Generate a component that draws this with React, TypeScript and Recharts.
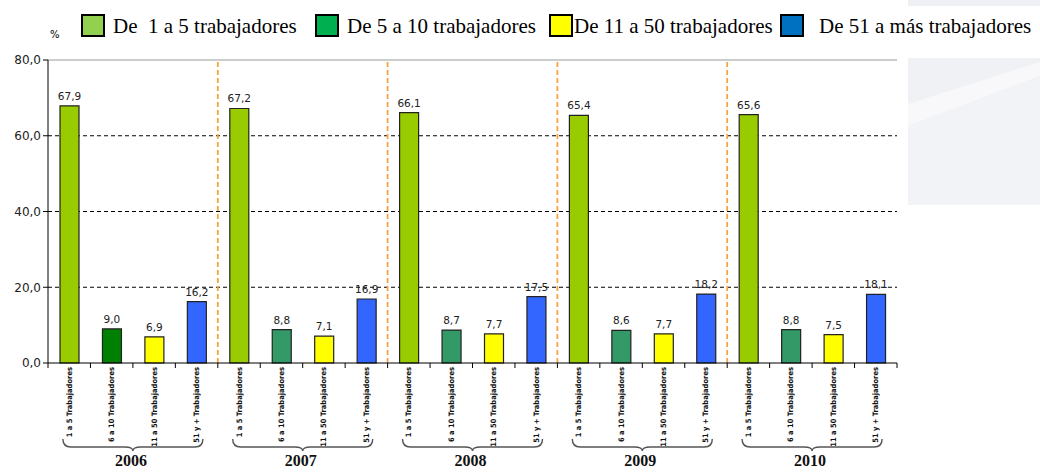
import {
  Bar,
  CartesianGrid,
  Cell,
  ComposedChart,
  LabelList,
  ReferenceLine,
  XAxis,
  YAxis,
} from "recharts";

const YEARS = ["2006", "2007", "2008", "2009", "2010"];
const SIZE_TICKS = ["1 a 5 Trabajadores", "6 a 10 Trabajadores", "11 a 50 Trabajadores", "51 y + Trabajadores"];
const LEGEND_LABELS = ["De  1 a 5 trabajadores", "De 5 a 10 trabajadores", "De 11 a 50 trabajadores", "De 51 a más trabajadores"];

const SMALL = [67.9, 67.2, 66.1, 65.4, 65.6];
const MICRO = [9.0, 8.8, 8.7, 8.6, 8.8];
const MEDIUM = [6.9, 7.1, 7.7, 7.7, 7.5];
const LARGE = [16.2, 16.9, 17.5, 18.2, 18.1];

const Y_TICKS = [0, 20, 40, 60, 80];
const GRID_VALUES = [20, 40, 60];

// bar fills, by size class; the 2006 second bar is a darker green in the source
const BAR_COLORS = ["#99cc00", "#339966", "#ffff00", "#3366ff"];
const BAR_COLOR_2006_MICRO = "#008000";
const LEGEND_COLORS = ["#92d050", "#00b050", "#ffff00", "#0070c0"];

const W = 1040;
const H = 472;
const MARGIN = { top: 60, right: 143, bottom: 0, left: 8 };

const series = [SMALL, MICRO, MEDIUM, LARGE];
const data = YEARS.flatMap((year, yi) =>
  SIZE_TICKS.map((label, si) => ({
    key: `${year}-${si}`,
    year,
    label,
    size: si,
    value: series[si][yi],
  }))
);

const fmt = (v: number) => v.toFixed(1).replace(".", ",");

function SizeTick(props: any) {
  const { x, y, payload, index, width, visibleTicksCount } = props;
  const plotW = width ?? W - MARGIN.left - MARGIN.right - 40;
  const half = plotW / (visibleTicksCount || data.length) / 2;
  const label = data[index]?.label ?? payload.value;
  return (
    <g>
      <line x1={x - half} x2={x - half} y1={y - 8} y2={y - 3} stroke="#000" />
      {index === data.length - 1 && (
        <line x1={x + half} x2={x + half} y1={y - 8} y2={y - 3} stroke="#000" />
      )}
      <text
        x={0}
        y={0}
        transform={`translate(${x + 2.5},${y - 4}) rotate(-90)`}
        textAnchor="end"
        fontFamily="'Liberation Sans Narrow', 'DejaVu Sans Condensed', Arial, sans-serif"
        fontSize={7.5}
        fontWeight="bold"
        fill="#111"
      >
        {label}
      </text>
    </g>
  );
}

function YearTick(props: any) {
  const { x, y, payload } = props;
  const top = y - 12;
  const hw = 70;
  const d =
    `M ${x - hw} ${top} Q ${x - hw} ${top + 8} ${x - hw + 8} ${top + 8} ` +
    `L ${x - 8} ${top + 8} Q ${x} ${top + 8} ${x} ${top + 12} ` +
    `Q ${x} ${top + 8} ${x + 8} ${top + 8} ` +
    `L ${x + hw - 8} ${top + 8} Q ${x + hw} ${top + 8} ${x + hw} ${top}`;
  return (
    <g>
      <path d={d} fill="none" stroke="#555" strokeWidth={1.4} />
      <text
        x={x - 2}
        y={top + 27}
        textAnchor="middle"
        fontFamily="'Liberation Serif', 'Times New Roman', serif"
        fontWeight="bold"
        fontSize={16}
        fill="#111"
      >
        {payload.value}
      </text>
    </g>
  );
}

function Legend() {
  const lefts = [81, 315, 549, 780];
  const gaps = [8, 8, 1, 15];
  return (
    <div
      style={{
        position: "absolute",
        left: 0,
        top: 0,
        width: W,
        fontFamily: "'Liberation Serif', 'Times New Roman', serif",
        fontSize: 21,
        color: "#000",
      }}
    >
      <span style={{ position: "absolute", left: 50, top: 29, fontFamily: "'DejaVu Sans', sans-serif", fontSize: 10 }}>%</span>
      {LEGEND_LABELS.map((label, i) => (
        <div
          key={label}
          style={{ position: "absolute", left: lefts[i], top: 13, display: "flex", alignItems: "center", whiteSpace: "pre" }}
        >
          <span
            style={{
              display: "inline-block",
              width: 20,
              height: 19,
              border: "2px solid #000",
              background: LEGEND_COLORS[i],
              marginRight: gaps[i],
            }}
          />
          <span style={{ lineHeight: "23px", marginTop: 2 }}>{label}</span>
        </div>
      ))}
    </div>
  );
}

function Watermark() {
  return (
    <svg width={132} height={210} style={{ position: "absolute", left: 908, top: 0 }}>
      <rect x={0} y={0} width={132} height={6} fill="#eff0f3" />
      <rect x={0} y={58} width={132} height={147} fill="#f0f1f4" />
      <polygon points="0,104 132,62 132,76 0,126" fill="#f8f8fa" />
      <polygon points="0,126 132,76 132,205 0,205" fill="#f2f3f6" />
    </svg>
  );
}

export default function App() {
  return (
    <div style={{ position: "absolute", left: 0, top: 0, width: W, height: H, background: "#fff" }}>
      <Watermark />
      <Legend />
      <ComposedChart width={W} height={H} data={data} margin={MARGIN} style={{ position: "absolute", left: 0, top: 0 }}>
        <CartesianGrid
          vertical={false}
          stroke="#000"
          strokeDasharray="4 3"
          horizontalValues={GRID_VALUES}
        />
        <XAxis
          dataKey="key"
          interval={0}
          height={80}
          axisLine={{ stroke: "#000" }}
          tickLine={false}
          tick={<SizeTick />}
        />
        <XAxis
          xAxisId="year"
          dataKey="year"
          allowDuplicatedCategory={false}
          height={29}
          axisLine={false}
          tickLine={false}
          tick={<YearTick />}
        />
        <YAxis
          domain={[0, 80]}
          ticks={Y_TICKS}
          width={40}
          tickFormatter={fmt}
          axisLine={{ stroke: "#000" }}
          tickLine={{ stroke: "#000" }}
          tickSize={5}
          tick={{ fontFamily: "'DejaVu Sans', sans-serif", fontSize: 12, fill: "#222" }}
        />
        <YAxis yAxisId="r" orientation="right" width={0} tick={false} tickLine={false} axisLine={{ stroke: "#999" }} />
        <ReferenceLine y={80} stroke="#999" />
        {YEARS.slice(1).map((year) => (
          <ReferenceLine
            key={year}
            x={`${year}-0`}
            position="start"
            stroke="#f7a440"
            strokeWidth={1.8}
            strokeDasharray="5 3"
          />
        ))}
        <Bar dataKey="value" barSize={19} stroke="#222" strokeWidth={1.2} isAnimationActive={false}>
          {data.map((d) => (
            <Cell
              key={d.key}
              fill={d.year === "2006" && d.size === 1 ? BAR_COLOR_2006_MICRO : BAR_COLORS[d.size]}
            />
          ))}
          <LabelList
            dataKey="value"
            position="top"
            offset={6}
            formatter={(v: any) => fmt(Number(v))}
            style={{ fontFamily: "'DejaVu Sans', sans-serif", fontSize: 10.5, fill: "#222" }}
          />
        </Bar>
      </ComposedChart>
    </div>
  );
}
